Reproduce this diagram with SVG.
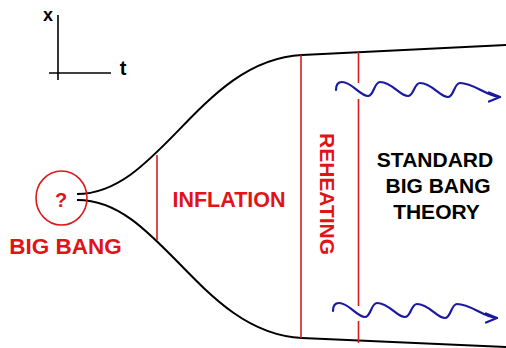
<svg xmlns="http://www.w3.org/2000/svg" width="506" height="348" viewBox="0 0 506 348">
<style>
.lbl{font-family:"Liberation Sans",Arial,sans-serif;font-weight:bold}
.red{fill:#e01418}
.blk{fill:#000}
.rl{stroke:#d81c1c;stroke-width:1.6;fill:none}
.bl{stroke:#000;stroke-width:2;fill:none}
.wave{stroke:#1a1a9e;stroke-width:2.2;fill:none;stroke-linecap:round;stroke-linejoin:round}
</style>
<defs>
<g id="w">
<path class="wave" d="M336,90 C336,84 339,82 342,82 C352,82 360,96 368,96 C374,96 374,82 380,82 C392,82 400,96 408,96 C414,96 414,83 420,83 C432,83 440,97 448,97 C454,97 454,83 460,83 C474,83 486,96 500,97"/>
<polyline class="wave" points="489,92.5 500,97 489,101.5"/>
</g>
</defs>
<rect width="506" height="348" fill="#fff"/>
<g id="axes">
<line x1="58" y1="15" x2="58" y2="80" stroke="#000" stroke-width="1.6"/>
<line x1="49" y1="73" x2="111" y2="73" stroke="#000" stroke-width="1.6"/>
<text class="lbl blk" x="48" y="21" font-size="18" text-anchor="middle">x</text>
<text class="lbl blk" x="123" y="75" font-size="20" text-anchor="middle">t</text>
</g>
<g id="connectors">
<path class="bl" d="M77,194 C160,194 200,60 302,55 L506,45"/>
<path class="bl" d="M77,200 C160,199 200,333 302,338 L506,347"/>
</g>
<g id="bigbang">
<ellipse cx="61.5" cy="198" rx="25.5" ry="27" class="rl"/>
<text class="lbl red" x="61" y="207" font-size="20" text-anchor="middle">?</text>
<text class="lbl red" x="65.5" y="254" font-size="22.5" text-anchor="middle">BIG BANG</text>
</g>
<g id="inflation">
<line class="rl" x1="157" y1="155" x2="157" y2="240"/>
<text class="lbl red" x="229" y="207" font-size="21.5" text-anchor="middle">INFLATION</text>
</g>
<g id="reheating">
<line class="rl" x1="301" y1="55" x2="301" y2="338"/>
<text class="lbl red" font-size="21" transform="translate(320,133) rotate(90)">REHEATING</text>
</g>
<g id="standard">
<path class="rl" d="M358.5,52 V83 M358.5,99 V306 M358.5,321 V343"/>
<text class="lbl blk" font-size="21" text-anchor="middle"><tspan x="435" y="167">STANDARD</tspan><tspan x="438" y="193">BIG BANG</tspan><tspan x="436.5" y="219">THEORY</tspan></text>
</g>
<g id="waves">
<use href="#w"/>
<use href="#w" transform="translate(-3,221)"/>
</g>
</svg>
